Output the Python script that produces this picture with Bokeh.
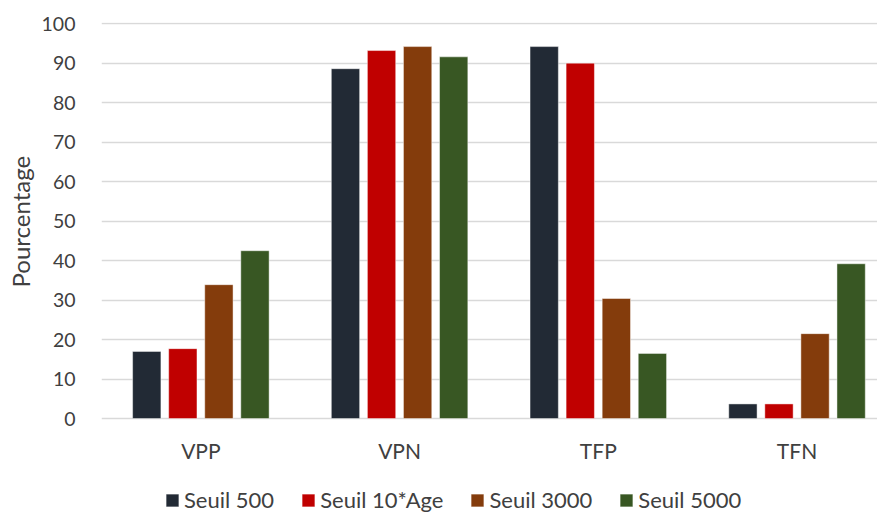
from bokeh.plotting import figure
from bokeh.models import ColumnDataSource, Range1d, FixedTicker, Legend, LegendItem, Title
from bokeh.core.properties import value
from bokeh.transform import dodge
from bokeh.embed import file_html
from bokeh.resources import INLINE

categories = ["VPP", "VPN", "TFP", "TFN"]
series_names = ["Seuil 500", "Seuil 10*Age", "Seuil 3000", "Seuil 5000"]
seuil_500 = [17.0, 88.6, 94.2, 3.7]
seuil_10age = [17.7, 93.2, 90.0, 3.7]
seuil_3000 = [33.9, 94.2, 30.4, 21.5]
seuil_5000 = [42.5, 91.6, 16.5, 39.2]
colors = ["#222A35", "#C00000", "#843C0C", "#385723"]
y_ticks = list(range(0, 101, 10))

FONT = "Lato"
TXT = "#404040"

p = figure(width=877, height=513, output_backend="svg", toolbar_location=None,
           x_range=Range1d(0, 3.905), y_range=Range1d(-24.05, 100.3),
           min_border_left=96, min_border_right=0, min_border_top=22,
           min_border_bottom=0)
p.outline_line_color = None

src = ColumnDataSource(dict(
    x=[i + 0.5 for i in range(len(categories))],
    cat=categories,
    zero=[0] * len(categories),
    s0=seuil_500, s1=seuil_10age, s2=seuil_3000, s3=seuil_5000,
))

step = 0.1815
width = 0.1425
renderers = []
for j, key in enumerate(["s0", "s1", "s2", "s3"]):
    r = p.vbar(x=dodge("x", (j - 1.5) * step), top=key, width=width, bottom=0,
               source=src, fill_color=colors[j], line_color="#ffffff",
               line_alpha=0.45, line_width=1)
    renderers.append(r)

# category labels (x axis)
p.text(x="x", y="zero", text="cat", source=src, y_offset=32,
       text_align="center", text_baseline="middle",
       text_font=value(FONT), text_font_size="21px", text_color=TXT)
p.xaxis.visible = False

p.yaxis.ticker = FixedTicker(ticks=y_ticks)
p.yaxis.axis_line_color = None
p.yaxis.major_tick_line_color = None
p.yaxis.minor_tick_line_color = None
p.yaxis.major_label_text_font = FONT
p.yaxis.major_label_text_font_size = "19.5px"
p.yaxis.major_label_text_color = TXT
p.yaxis.major_label_standoff = 20

ytitle = Title(text="Pourcentage", align="left", offset=226,
               text_font=FONT, text_font_size="24px", text_font_style="normal",
               text_color=TXT, standoff=7)
p.add_layout(ytitle, "left")

p.xgrid.grid_line_color = None
p.ygrid.grid_line_color = "#D9D9D9"
p.ygrid.grid_line_width = 1.3

legend = Legend(
    items=[LegendItem(label=series_names[j], renderers=[renderers[j]]) for j in range(4)],
    orientation="horizontal", location=(63, 0),
    label_text_font=FONT, label_text_font_size="22px", label_text_color=TXT,
    glyph_width=16, glyph_height=16, label_standoff=4, spacing=26,
    padding=0, margin=0, border_line_color=None, background_fill_alpha=0,
)
p.add_layout(legend, "center")

open("out.html", "w").write(file_html(p, INLINE))
